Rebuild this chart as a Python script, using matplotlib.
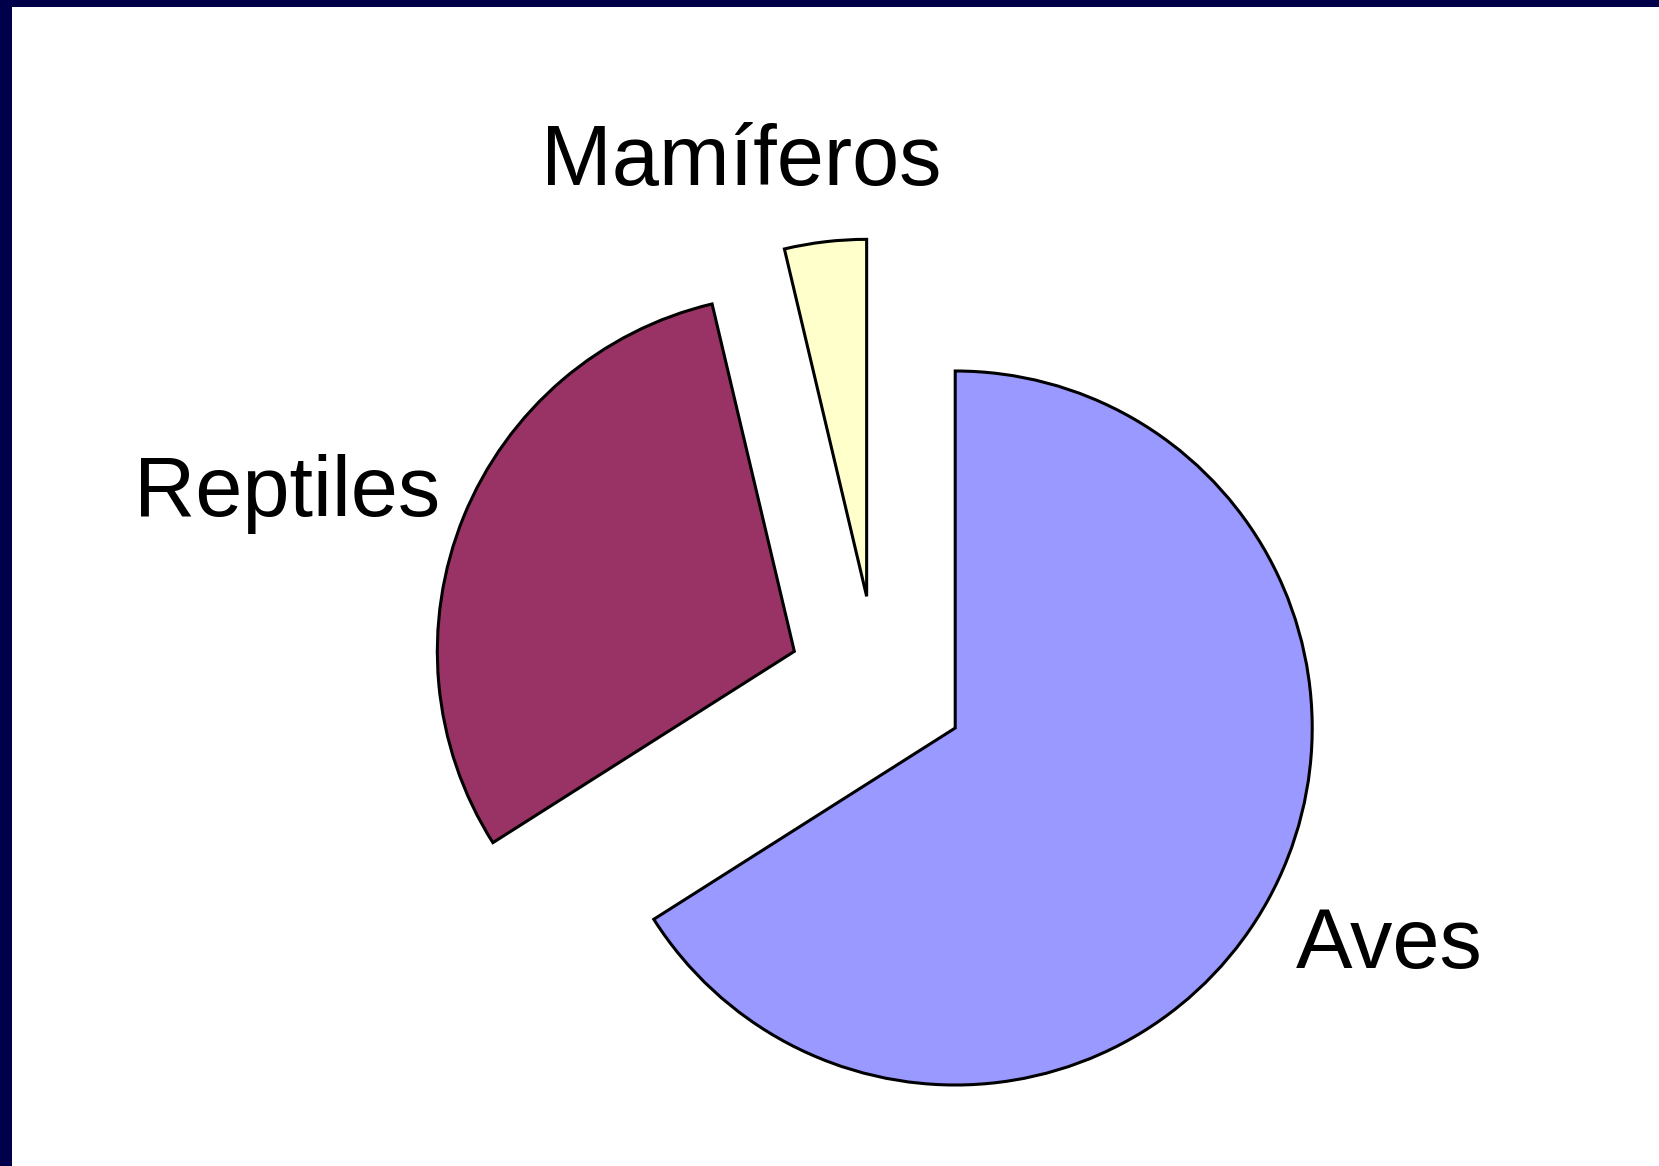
import matplotlib
matplotlib.use("Agg")
import matplotlib.pyplot as plt
from matplotlib.patches import Rectangle

categories = ["Aves", "Reptiles", "Mamíferos"]
values = [66.0, 30.3, 3.7]
colors = ["#9999FF", "#993366", "#FFFFCC"]

W, H = 1659, 1166
fig = plt.figure(figsize=(W / 100, H / 100), dpi=100)
fig.patch.set_facecolor("#00004A")
# white panel
fig.patches.append(Rectangle((12 / W, 0), 1 - 12 / W, 1 - 7 / H,
                             transform=fig.transFigure, facecolor="white",
                             edgecolor="none", zorder=-10))

ax = fig.add_axes([0, 0, 1, 1])
ax.set_zorder(5)
ax.patch.set_visible(False)

R = 357.0
cx, cy = 877.0, 685.0  # pixel center (from top)

wedges, _ = ax.pie(values, colors=colors, explode=[0.25] * 3, startangle=90,
                   counterclock=False, radius=1.0,
                   wedgeprops=dict(edgecolor="black", linewidth=2.2))
ax.set_aspect("auto")
ax.set_xlim(-cx / R, (W - cx) / R)
ax.set_ylim(-(H - cy) / R, cy / R)
ax.axis("off")

label_pos = {"Mamíferos": (-0.38, 1.462), "Reptiles": (-1.651, 0.535),
             "Aves": (1.436, -0.73)}
for name in categories:
    x, y = label_pos[name]
    ax.text(x, y, name, ha="center", va="center", fontsize=61,
            family="Liberation Sans", color="black")

fig.savefig("out.png", dpi=100, facecolor=fig.get_facecolor())
